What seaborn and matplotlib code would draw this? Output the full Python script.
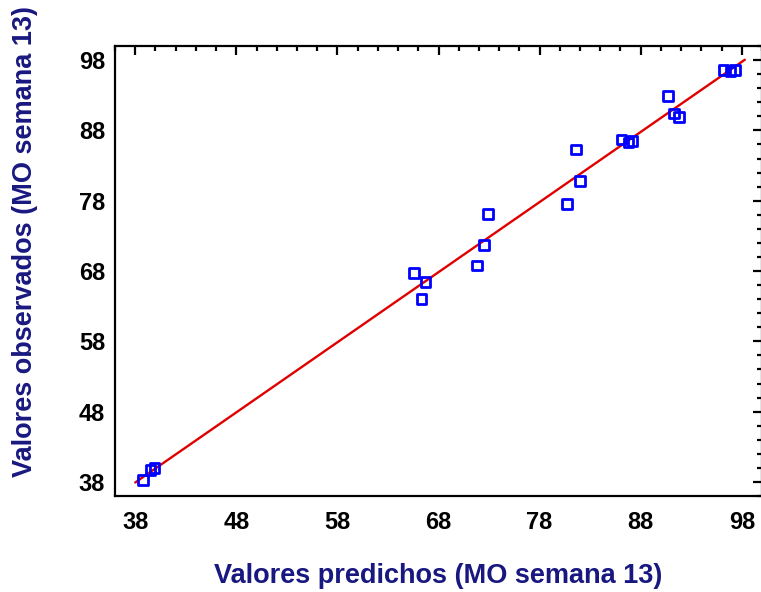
import numpy as np
import pandas as pd
import matplotlib
matplotlib.use("Agg")
import matplotlib.pyplot as plt
import seaborn as sns
from matplotlib.ticker import MultipleLocator

# ===== data =====
predichos = [38.8, 39.5, 39.9, 65.6, 66.7, 66.3, 71.8, 72.5, 72.9,
             80.7, 81.6, 82.0, 86.1, 86.8, 87.2, 90.7, 91.3, 91.8,
             96.2, 96.9, 97.3]
observados = [38.3, 39.7, 40.0, 67.7, 66.4, 64.0, 68.8, 71.7, 76.1,
              77.5, 85.3, 80.8, 86.7, 86.3, 86.5, 92.9, 90.4, 89.9,
              96.6, 96.4, 96.6]
line_range = [38.0, 98.3]
ticks = [38, 48, 58, 68, 78, 88, 98]

df = pd.DataFrame({"pred": predichos, "obs": observados})

# regression line obs ~ pred
b, a = np.polyfit(df["pred"], df["obs"], 1)
line_df = pd.DataFrame({"x": line_range})
line_df["y"] = a + b * line_df["x"]

sns.set_style("white")
plt.rcParams["font.family"] = ["Liberation Sans", "DejaVu Sans"]

fig = plt.figure(figsize=(7.61, 5.92), dpi=100)
ax = fig.add_axes([115 / 761, 1 - 496 / 592, 647 / 761, 450 / 592])

sns.lineplot(data=line_df, x="x", y="y", color="#e00000", linewidth=1.7, ax=ax, zorder=2)
sns.scatterplot(data=df, x="pred", y="obs", marker="s", s=48,
                facecolor="none", edgecolor="#0000ff", linewidth=2.0, ax=ax, zorder=3)

ax.set_xlim(36, 100)
ax.set_ylim(36, 100)
ax.set_xticks(ticks)
ax.set_yticks(ticks)
ax.xaxis.set_minor_locator(MultipleLocator(2))
ax.yaxis.set_minor_locator(MultipleLocator(2))
ax.tick_params(which="both", direction="in", top=True, right=True, width=1.6,
               color="black", labelcolor="black")
ax.tick_params(which="major", length=6.5)
ax.tick_params(which="minor", length=3.5)
ax.tick_params(axis="x", which="major", pad=11)
ax.tick_params(axis="y", which="major", pad=7)
for lab in ax.get_xticklabels() + ax.get_yticklabels():
    lab.set_fontsize(17)
    lab.set_fontweight("bold")
for sp in ax.spines.values():
    sp.set_linewidth(1.6)
    sp.set_color("black")

navy = "#181880"
ax.set_xlabel("Valores predichos (MO semana 13)", fontsize=19.5, fontweight="bold", color=navy, labelpad=21)
ax.set_ylabel("Valores observados (MO semana 13)", fontsize=19.5, fontweight="bold", color=navy)
# label sits a bit above the axes centre in the original
ax.yaxis.set_label_coords(-0.119, 0.565)

fig.savefig("out.png", dpi=100)
